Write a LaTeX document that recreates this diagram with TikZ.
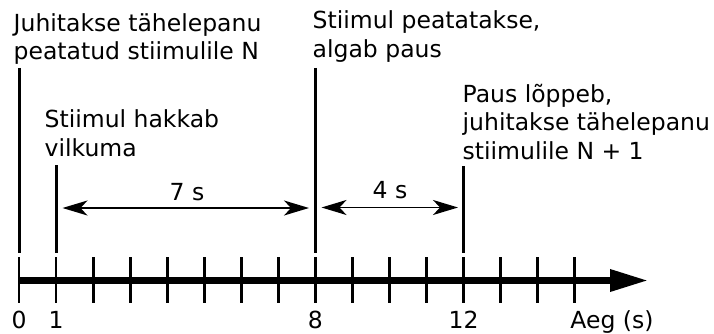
\documentclass[tikz,border=0pt]{standalone}
\usepackage{fontspec}
\setmainfont{DejaVu Sans}
\usetikzlibrary{arrows.meta}
\begin{document}
\begin{tikzpicture}[x=1pt,y=-1pt,
  lbl/.style={inner sep=0pt, align=left, anchor=base west, font=\fontsize{23.5}{28.5}\selectfont},
  ticklbl/.style={inner sep=0pt, anchor=base, font=\fontsize{23.5}{28.5}\selectfont},
  marker/.style={line width=3pt},
  tickmark/.style={line width=2.8pt},
  axisline/.style={line width=6.5pt, -{Triangle[length=38pt,width=21pt]}},
  span/.style={line width=1.7pt, {Stealth[length=25pt,width=15pt,inset=7pt]}-{Stealth[length=25pt,width=15pt,inset=7pt]}},
]
\useasboundingbox (0,0) rectangle (714,334);
% axis
\coordinate (axS) at (19,280.5);
\coordinate (axE) at (648,280.5);
\draw[axisline] (axS) -- (axE);
\foreach \i in {0,...,15}{
  \coordinate (tk\i a) at ({19+37.05*\i},257);
  \coordinate (tk\i b) at ({19+37.05*\i},303);
  \draw[tickmark] (tk\i a) -- (tk\i b);
}
% event markers
\coordinate (m0t) at (19,68);   \coordinate (m0b) at (19,253);
\coordinate (m1t) at (56,165);  \coordinate (m1b) at (56,253);
\coordinate (m8t) at (315.4,68); \coordinate (m8b) at (315.4,253);
\coordinate (m12t) at (463.6,166); \coordinate (m12b) at (463.6,253);
\draw[marker] (m0t) -- (m0b);
\draw[marker] (m1t) -- (m1b);
\draw[marker] (m8t) -- (m8b);
\draw[marker] (m12t) -- (m12b);
% event labels (anchor = baseline of last line)
\node[lbl] (evA) at (13.5,60) {Juhitakse tähelepanu\\peatatud stiimulile N};
\node[lbl] (evB) at (312.5,57.5) {Stiimul peatatakse,\\algab paus};
\node[lbl] (evC) at (44.5,156) {Stiimul hakkab\\vilkuma};
\node[lbl] (evD) at (462.5,159.5) {Paus lõppeb,\\juhitakse tähelepanu\\stiimulile N + 1};
% spans
\coordinate (s7a) at (62.5,208); \coordinate (s7b) at (309,208);
\coordinate (s4a) at (321.5,207.5); \coordinate (s4b) at (458,207.5);
\draw[span] (s7a) -- (s7b);
\draw[span] (s4a) -- (s4b);
\node[ticklbl] (l7) at (187,200) {7 s};
\node[ticklbl] (l4) at (390,198.5) {4 s};
% tick labels
\node[ticklbl] (t0) at (19,328) {0};
\node[ticklbl] (t1) at (56,328) {1};
\node[ticklbl] (t8) at (315.4,328) {8};
\node[ticklbl] (t12) at (463.6,328) {12};
\node[ticklbl] (aeg) at (612,328) {Aeg (s)};
\end{tikzpicture}
\end{document}
